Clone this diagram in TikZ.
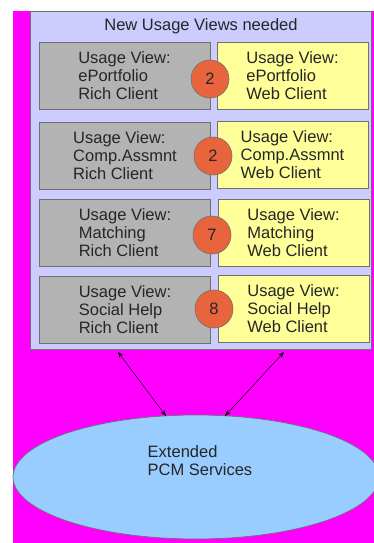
\documentclass[tikz,border=0pt]{standalone}
\usepackage{fontspec}
\setmainfont{Liberation Sans}
\usetikzlibrary{arrows.meta,shapes.geometric}

\definecolor{bgmagenta}{HTML}{FF00FF}
\definecolor{panelfill}{HTML}{CCCCFF}
\definecolor{richfill}{HTML}{B3B3B3}
\definecolor{webfill}{HTML}{FFFF99}
\definecolor{badgefill}{HTML}{E8643C}
\definecolor{servfill}{HTML}{99CCFF}
\definecolor{edge}{HTML}{707070}
\definecolor{ink}{HTML}{262626}

\tikzset{
  every node/.style={font=\fontsize{16.5}{18}\selectfont, text=ink},
  panelbox/.style={draw=edge, line width=0.7pt, fill=panelfill, rectangle,
    minimum width=341pt, minimum height=338pt, inner sep=0pt},
  richbox/.style={draw=edge, line width=0.7pt, fill=richfill, rectangle,
    minimum width=171pt, minimum height=67pt, align=left, inner sep=0pt},
  webbox/.style={draw=edge, line width=0.7pt, fill=webfill, rectangle,
    minimum width=151pt, minimum height=67pt, align=left, inner sep=0pt},
  badge/.style={draw=edge, line width=0.6pt, fill=badgefill, circle,
    minimum size=38pt, inner sep=0pt},
  service/.style={draw=edge, line width=0.7pt, fill=servfill, ellipse,
    minimum width=366pt, minimum height=124pt, inner sep=0pt},
  link/.style={line width=0.5pt, black,
    {Stealth[length=6pt,width=4.5pt]}-{Stealth[length=6pt,width=4.5pt]}}
}

\begin{document}
\begin{tikzpicture}[x=1pt,y=-1pt]
  \useasboundingbox (0,0) rectangle (374,543);
  \clip (0,0) rectangle (374,543);

  % page background
  \fill[bgmagenta] (13,11) rectangle (374,543);

  % container for the usage views
  \node[panelbox] (panel) at (200.5,180) {};
  \node (title) at (201,26) {New Usage Views needed};

  % rich client / web client pairs
  \node[richbox] (rich1) at (124.5,75.5)  {Usage View:\\ePortfolio\\Rich Client};
  \node[webbox]  (web1)  at (292.5,75.5)  {Usage View:\\ePortfolio\\Web Client};
  \node[richbox] (rich2) at (125,155.5)   {Usage View:\\Comp.Assmnt\\Rich Client};
  \node[webbox]  (web2)  at (292.5,155)   {Usage View:\\Comp.Assmnt\\Web Client};
  \node[richbox] (rich3) at (125,232.5)   {Usage View:\\Matching\\Rich Client};
  \node[webbox]  (web3)  at (293.5,232.5) {Usage View:\\Matching\\Web Client};
  \node[richbox] (rich4) at (125,309.5)   {Usage View:\\Social Help\\Rich Client};
  \node[webbox]  (web4)  at (293.5,308.5) {Usage View:\\Social Help\\Web Client};

  % effort badges
  \node[badge] (num1) at (210,79)  {2};
  \node[badge] (num2) at (213,156) {2};
  \node[badge] (num3) at (212,235) {7};
  \node[badge] (num4) at (214,309) {8};

  % services
  \node[service] (pcm) at (196,477) {};
  \node[align=left] (pcmtext) at (200,461) {Extended\\PCM Services};

  % connectors between the views and the services
  \coordinate (panelL) at (118,352);
  \coordinate (panelR) at (284,352);
  \coordinate (pcmL) at (166,416);
  \coordinate (pcmR) at (225,416);
  \draw[link] (panelL) -- (pcmL);
  \draw[link] (panelR) -- (pcmR);
\end{tikzpicture}
\end{document}
